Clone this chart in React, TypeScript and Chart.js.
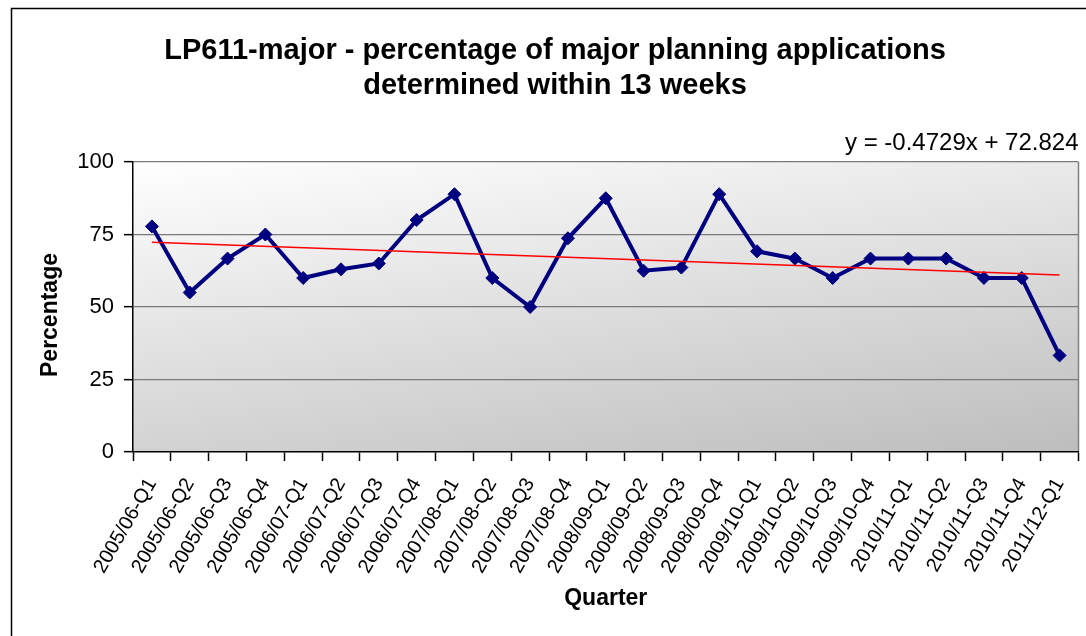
import React, { useEffect, useRef } from "react";
import { Chart, registerables } from "chart.js";

Chart.register(...registerables);

const quarters = [
  "2005/06-Q1", "2005/06-Q2", "2005/06-Q3", "2005/06-Q4",
  "2006/07-Q1", "2006/07-Q2", "2006/07-Q3", "2006/07-Q4",
  "2007/08-Q1", "2007/08-Q2", "2007/08-Q3", "2007/08-Q4",
  "2008/09-Q1", "2008/09-Q2", "2008/09-Q3", "2008/09-Q4",
  "2009/10-Q1", "2009/10-Q2", "2009/10-Q3", "2009/10-Q4",
  "2010/11-Q1", "2010/11-Q2", "2010/11-Q3", "2010/11-Q4",
  "2011/12-Q1",
];

const percentages = [
  77.8, 55, 66.7, 75,
  60, 63, 65, 80,
  88.9, 60, 50, 73.7,
  87.5, 62.5, 63.6, 88.9,
  69.2, 66.7, 60, 66.7,
  66.7, 66.7, 60, 60,
  33.3,
];

// Trendline end values (first and last quarter), as shown by the equation label
const trendEnds = [72.35, 61.0];
const trendLabel = "y = -0.4729x + 72.824";

const titleLines = [
  "LP611-major - percentage of major planning applications",
  "determined within 13 weeks",
];
const yAxisTitle = "Percentage";
const xAxisTitle = "Quarter";
const yTicks = [0, 25, 50, 75, 100];

const FONT = "'Liberation Sans', Arial, sans-serif";

export default function App() {
  const ref = useRef<HTMLCanvasElement | null>(null);

  useEffect(() => {
    if (!ref.current) return;
    const trendData: (number | null)[] = quarters.map((_, i) =>
      i === 0 ? trendEnds[0] : i === quarters.length - 1 ? trendEnds[1] : null
    );

    const bgPlugin = {
      id: "bgPlugin",
      beforeDraw(chart: any) {
        const { ctx, chartArea: a, width, height } = chart;
        ctx.save();
        ctx.fillStyle = "#ffffff";
        ctx.fillRect(0, 0, width, height);
        const g = ctx.createLinearGradient(a.left, a.top, a.left + 63, a.top + 422);
        g.addColorStop(0, "#ffffff");
        g.addColorStop(1, "#bdbdbd");
        ctx.fillStyle = g;
        ctx.fillRect(a.left, a.top, a.right - a.left, a.bottom - a.top);
        // right border of plot area
        ctx.strokeStyle = "#808080";
        ctx.lineWidth = 1.5;
        ctx.beginPath();
        ctx.moveTo(a.right, a.top);
        ctx.lineTo(a.right, a.bottom);
        ctx.stroke();
        // outer chart border (left & top)
        ctx.strokeStyle = "#000000";
        ctx.lineWidth = 1.5;
        ctx.beginPath();
        ctx.moveTo(11.5, height);
        ctx.lineTo(11.5, 8.5);
        ctx.lineTo(width, 8.5);
        ctx.stroke();
        ctx.restore();
      },
      afterDraw(chart: any) {
        const { ctx, chartArea: a } = chart;
        ctx.save();
        ctx.fillStyle = "#000000";
        // title
        ctx.font = `bold 29px ${FONT}`;
        ctx.textAlign = "center";
        ctx.textBaseline = "middle";
        titleLines.forEach((line, i) => {
          ctx.fillText(line, 555, 51 + i * 35);
        });
        // y axis title
        ctx.save();
        ctx.translate(51, 315);
        ctx.rotate(-Math.PI / 2);
        ctx.font = `bold 23px ${FONT}`;
        ctx.fillText(yAxisTitle, 0, 0);
        ctx.restore();
        // trendline equation
        ctx.font = `24px ${FONT}`;
        ctx.textAlign = "right";
        ctx.textBaseline = "alphabetic";
        ctx.fillText(trendLabel, a.right, a.top - 12);
        ctx.restore();
      },
    };

    const chart = new Chart(ref.current, {
      type: "line",
      data: {
        labels: quarters,
        datasets: [
          {
            label: "Trend",
            data: trendData,
            borderColor: "#ff0000",
            borderWidth: 1.5,
            pointRadius: 0,
            spanGaps: true,
            fill: false,
            order: 0,
          },
          {
            label: "LP611-major",
            data: percentages,
            borderColor: "#000080",
            backgroundColor: "#000080",
            borderWidth: 4,
            pointStyle: "rectRot",
            pointRadius: 6.5,
            pointBorderWidth: 1,
            pointBackgroundColor: "#000080",
            pointBorderColor: "#000080",
            tension: 0,
            fill: false,
            order: 1,
          },
        ],
      },
      options: {
        responsive: false,
        animation: false,
        layout: { padding: { left: 0, right: 6, top: 162, bottom: 0 } },
        plugins: {
          legend: { display: false },
          tooltip: { enabled: false },
          title: { display: false },
        },
        scales: {
          x: {
            type: "category",
            offset: true,
            grid: {
              display: true,
              offset: true,
              drawOnChartArea: false,
              drawTicks: true,
              tickLength: 9,
              tickColor: "#000000",
              tickWidth: 1.5,
            },
            border: { display: true, color: "#000000", width: 1.5 },
            ticks: {
              autoSkip: false,
              minRotation: 60,
              maxRotation: 60,
              padding: 13,
              color: "#000000",
              font: { family: FONT, size: 20 },
            },
            title: {
              display: true,
              text: xAxisTitle,
              color: "#000000",
              font: { family: FONT, size: 23, weight: "bold", lineHeight: 1.2 },
              padding: { top: 0, bottom: 24 },
            },
            afterFit(scale: any) {
              scale.height = 636 - 452;
              scale.paddingLeft = 0;
              scale.paddingRight = 0;
            },
          },
          y: {
            min: 0,
            max: 100,
            afterBuildTicks(scale: any) {
              scale.ticks = yTicks.map((v) => ({ value: v }));
            },
            grid: {
              color: (c: any) => (c.tick && c.tick.value === 0 ? "rgba(0,0,0,0)" : "#7a7a7a"),
              lineWidth: 1.3,
              drawTicks: true,
              tickLength: 9,
              tickColor: "#000000",
              tickWidth: 1.5,
            },
            border: { display: true, color: "#000000", width: 1.5 },
            ticks: {
              padding: 10,
              color: "#000000",
              font: { family: FONT, size: 22 },
            },
            title: { display: false },
            afterFit(scale: any) {
              scale.width = 133;
              scale.paddingTop = 0;
              scale.paddingBottom = 0;
            },
          },
        },
      },
      plugins: [bgPlugin],
    } as any);

    return () => chart.destroy();
  }, []);

  return (
    <div style={{ position: "fixed", left: 0, top: 0, width: 1086, height: 636, background: "#fff" }}>
      <canvas ref={ref} width={1086} height={636} style={{ display: "block" }} />
    </div>
  );
}
